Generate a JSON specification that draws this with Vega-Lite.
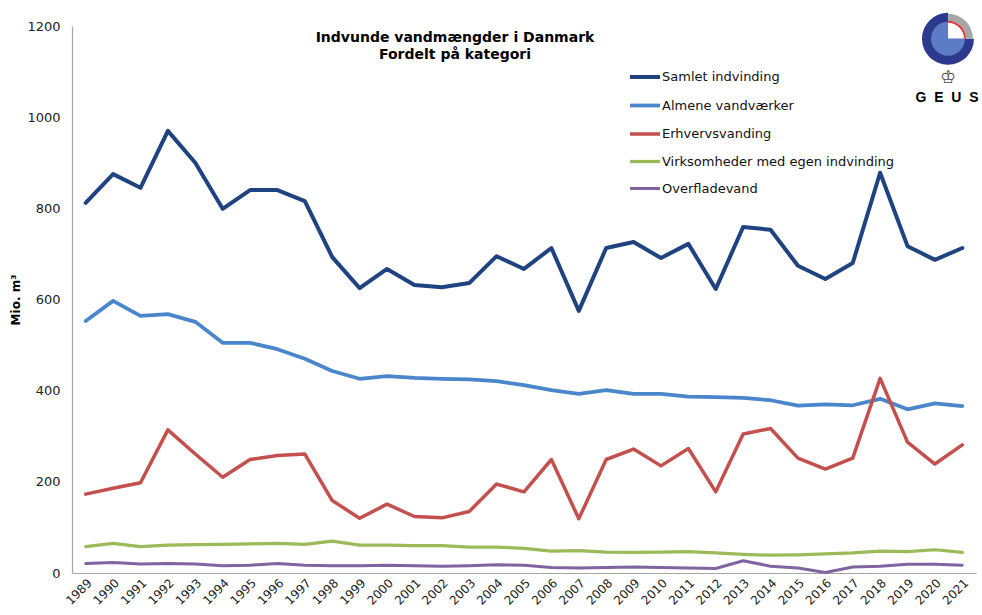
{
  "$schema": "https://vega.github.io/schema/vega-lite/v6.json",
  "width": 904,
  "height": 547,
  "autosize": "none",
  "padding": {"left": 72, "top": 26, "right": 6, "bottom": 42},
  "background": "white",
  "config": {
    "view": {"stroke": null},
    "font": "DejaVu Sans",
    "axis": {"labelFont": "DejaVu Sans", "labelColor": "#222", "domainColor": "#A6A6A6", "domainWidth": 1.2, "ticks": false, "grid": false}
  },
  "title": {
    "text": ["Indvunde vandmængder i Danmark", "Fordelt på kategori"],
    "font": "DejaVu Sans",
    "fontSize": 14,
    "fontWeight": "bold",
    "color": "#000",
    "anchor": "middle",
    "frame": "group",
    "lineHeight": 17,
    "offset": 0,
    "dx": -69,
    "dy": 49
  },
  "resolve": {"scale": {"x": "independent"}},
  "layer": [
    {
      "data": {"values": [
        {"year":1989,"series":"Samlet indvinding","value":812},
        {"year":1990,"series":"Samlet indvinding","value":875},
        {"year":1991,"series":"Samlet indvinding","value":845},
        {"year":1992,"series":"Samlet indvinding","value":970},
        {"year":1993,"series":"Samlet indvinding","value":900},
        {"year":1994,"series":"Samlet indvinding","value":799},
        {"year":1995,"series":"Samlet indvinding","value":840},
        {"year":1996,"series":"Samlet indvinding","value":840},
        {"year":1997,"series":"Samlet indvinding","value":816},
        {"year":1998,"series":"Samlet indvinding","value":693},
        {"year":1999,"series":"Samlet indvinding","value":625},
        {"year":2000,"series":"Samlet indvinding","value":667},
        {"year":2001,"series":"Samlet indvinding","value":632},
        {"year":2002,"series":"Samlet indvinding","value":627},
        {"year":2003,"series":"Samlet indvinding","value":636},
        {"year":2004,"series":"Samlet indvinding","value":695},
        {"year":2005,"series":"Samlet indvinding","value":667},
        {"year":2006,"series":"Samlet indvinding","value":713},
        {"year":2007,"series":"Samlet indvinding","value":575},
        {"year":2008,"series":"Samlet indvinding","value":713},
        {"year":2009,"series":"Samlet indvinding","value":726},
        {"year":2010,"series":"Samlet indvinding","value":691},
        {"year":2011,"series":"Samlet indvinding","value":722},
        {"year":2012,"series":"Samlet indvinding","value":623},
        {"year":2013,"series":"Samlet indvinding","value":759},
        {"year":2014,"series":"Samlet indvinding","value":753},
        {"year":2015,"series":"Samlet indvinding","value":674},
        {"year":2016,"series":"Samlet indvinding","value":645},
        {"year":2017,"series":"Samlet indvinding","value":680},
        {"year":2018,"series":"Samlet indvinding","value":878},
        {"year":2019,"series":"Samlet indvinding","value":717},
        {"year":2020,"series":"Samlet indvinding","value":687},
        {"year":2021,"series":"Samlet indvinding","value":713},
        {"year":1989,"series":"Almene vandværker","value":553},
        {"year":1990,"series":"Almene vandværker","value":597},
        {"year":1991,"series":"Almene vandværker","value":564},
        {"year":1992,"series":"Almene vandværker","value":568},
        {"year":1993,"series":"Almene vandværker","value":551},
        {"year":1994,"series":"Almene vandværker","value":505},
        {"year":1995,"series":"Almene vandværker","value":505},
        {"year":1996,"series":"Almene vandværker","value":491},
        {"year":1997,"series":"Almene vandværker","value":470},
        {"year":1998,"series":"Almene vandværker","value":443},
        {"year":1999,"series":"Almene vandværker","value":426},
        {"year":2000,"series":"Almene vandværker","value":432},
        {"year":2001,"series":"Almene vandværker","value":428},
        {"year":2002,"series":"Almene vandværker","value":426},
        {"year":2003,"series":"Almene vandværker","value":425},
        {"year":2004,"series":"Almene vandværker","value":421},
        {"year":2005,"series":"Almene vandværker","value":412},
        {"year":2006,"series":"Almene vandværker","value":401},
        {"year":2007,"series":"Almene vandværker","value":393},
        {"year":2008,"series":"Almene vandværker","value":401},
        {"year":2009,"series":"Almene vandværker","value":393},
        {"year":2010,"series":"Almene vandværker","value":393},
        {"year":2011,"series":"Almene vandværker","value":387},
        {"year":2012,"series":"Almene vandværker","value":386},
        {"year":2013,"series":"Almene vandværker","value":384},
        {"year":2014,"series":"Almene vandværker","value":379},
        {"year":2015,"series":"Almene vandværker","value":367},
        {"year":2016,"series":"Almene vandværker","value":370},
        {"year":2017,"series":"Almene vandværker","value":368},
        {"year":2018,"series":"Almene vandværker","value":382},
        {"year":2019,"series":"Almene vandværker","value":359},
        {"year":2020,"series":"Almene vandværker","value":372},
        {"year":2021,"series":"Almene vandværker","value":366},
        {"year":1989,"series":"Erhvervsvanding","value":173},
        {"year":1990,"series":"Erhvervsvanding","value":186},
        {"year":1991,"series":"Erhvervsvanding","value":198},
        {"year":1992,"series":"Erhvervsvanding","value":314},
        {"year":1993,"series":"Erhvervsvanding","value":261},
        {"year":1994,"series":"Erhvervsvanding","value":210},
        {"year":1995,"series":"Erhvervsvanding","value":249},
        {"year":1996,"series":"Erhvervsvanding","value":258},
        {"year":1997,"series":"Erhvervsvanding","value":261},
        {"year":1998,"series":"Erhvervsvanding","value":159},
        {"year":1999,"series":"Erhvervsvanding","value":120},
        {"year":2000,"series":"Erhvervsvanding","value":151},
        {"year":2001,"series":"Erhvervsvanding","value":124},
        {"year":2002,"series":"Erhvervsvanding","value":121},
        {"year":2003,"series":"Erhvervsvanding","value":135},
        {"year":2004,"series":"Erhvervsvanding","value":195},
        {"year":2005,"series":"Erhvervsvanding","value":178},
        {"year":2006,"series":"Erhvervsvanding","value":249},
        {"year":2007,"series":"Erhvervsvanding","value":119},
        {"year":2008,"series":"Erhvervsvanding","value":249},
        {"year":2009,"series":"Erhvervsvanding","value":272},
        {"year":2010,"series":"Erhvervsvanding","value":235},
        {"year":2011,"series":"Erhvervsvanding","value":273},
        {"year":2012,"series":"Erhvervsvanding","value":178},
        {"year":2013,"series":"Erhvervsvanding","value":305},
        {"year":2014,"series":"Erhvervsvanding","value":317},
        {"year":2015,"series":"Erhvervsvanding","value":252},
        {"year":2016,"series":"Erhvervsvanding","value":228},
        {"year":2017,"series":"Erhvervsvanding","value":252},
        {"year":2018,"series":"Erhvervsvanding","value":427},
        {"year":2019,"series":"Erhvervsvanding","value":287},
        {"year":2020,"series":"Erhvervsvanding","value":239},
        {"year":2021,"series":"Erhvervsvanding","value":281},
        {"year":1989,"series":"Virksomheder med egen indvinding","value":58},
        {"year":1990,"series":"Virksomheder med egen indvinding","value":65},
        {"year":1991,"series":"Virksomheder med egen indvinding","value":58},
        {"year":1992,"series":"Virksomheder med egen indvinding","value":61},
        {"year":1993,"series":"Virksomheder med egen indvinding","value":62},
        {"year":1994,"series":"Virksomheder med egen indvinding","value":63},
        {"year":1995,"series":"Virksomheder med egen indvinding","value":64},
        {"year":1996,"series":"Virksomheder med egen indvinding","value":65},
        {"year":1997,"series":"Virksomheder med egen indvinding","value":63},
        {"year":1998,"series":"Virksomheder med egen indvinding","value":70},
        {"year":1999,"series":"Virksomheder med egen indvinding","value":61},
        {"year":2000,"series":"Virksomheder med egen indvinding","value":61},
        {"year":2001,"series":"Virksomheder med egen indvinding","value":60},
        {"year":2002,"series":"Virksomheder med egen indvinding","value":60},
        {"year":2003,"series":"Virksomheder med egen indvinding","value":57},
        {"year":2004,"series":"Virksomheder med egen indvinding","value":57},
        {"year":2005,"series":"Virksomheder med egen indvinding","value":54},
        {"year":2006,"series":"Virksomheder med egen indvinding","value":48},
        {"year":2007,"series":"Virksomheder med egen indvinding","value":49},
        {"year":2008,"series":"Virksomheder med egen indvinding","value":46},
        {"year":2009,"series":"Virksomheder med egen indvinding","value":45},
        {"year":2010,"series":"Virksomheder med egen indvinding","value":46},
        {"year":2011,"series":"Virksomheder med egen indvinding","value":47},
        {"year":2012,"series":"Virksomheder med egen indvinding","value":44},
        {"year":2013,"series":"Virksomheder med egen indvinding","value":41},
        {"year":2014,"series":"Virksomheder med egen indvinding","value":39},
        {"year":2015,"series":"Virksomheder med egen indvinding","value":40},
        {"year":2016,"series":"Virksomheder med egen indvinding","value":42},
        {"year":2017,"series":"Virksomheder med egen indvinding","value":44},
        {"year":2018,"series":"Virksomheder med egen indvinding","value":48},
        {"year":2019,"series":"Virksomheder med egen indvinding","value":47},
        {"year":2020,"series":"Virksomheder med egen indvinding","value":51},
        {"year":2021,"series":"Virksomheder med egen indvinding","value":45},
        {"year":1989,"series":"Overfladevand","value":21},
        {"year":1990,"series":"Overfladevand","value":23},
        {"year":1991,"series":"Overfladevand","value":20},
        {"year":1992,"series":"Overfladevand","value":21},
        {"year":1993,"series":"Overfladevand","value":20},
        {"year":1994,"series":"Overfladevand","value":16},
        {"year":1995,"series":"Overfladevand","value":17},
        {"year":1996,"series":"Overfladevand","value":21},
        {"year":1997,"series":"Overfladevand","value":17},
        {"year":1998,"series":"Overfladevand","value":16},
        {"year":1999,"series":"Overfladevand","value":16},
        {"year":2000,"series":"Overfladevand","value":17},
        {"year":2001,"series":"Overfladevand","value":16},
        {"year":2002,"series":"Overfladevand","value":15},
        {"year":2003,"series":"Overfladevand","value":16},
        {"year":2004,"series":"Overfladevand","value":18},
        {"year":2005,"series":"Overfladevand","value":17},
        {"year":2006,"series":"Overfladevand","value":12},
        {"year":2007,"series":"Overfladevand","value":11},
        {"year":2008,"series":"Overfladevand","value":12},
        {"year":2009,"series":"Overfladevand","value":13},
        {"year":2010,"series":"Overfladevand","value":12},
        {"year":2011,"series":"Overfladevand","value":11},
        {"year":2012,"series":"Overfladevand","value":10},
        {"year":2013,"series":"Overfladevand","value":27},
        {"year":2014,"series":"Overfladevand","value":15},
        {"year":2015,"series":"Overfladevand","value":11},
        {"year":2016,"series":"Overfladevand","value":1},
        {"year":2017,"series":"Overfladevand","value":13},
        {"year":2018,"series":"Overfladevand","value":15},
        {"year":2019,"series":"Overfladevand","value":19},
        {"year":2020,"series":"Overfladevand","value":19},
        {"year":2021,"series":"Overfladevand","value":17}
      ]},
      "mark": {"type": "line", "strokeJoin": "round", "strokeCap": "round"},
      "encoding": {
        "x": {
          "field": "year", "type": "ordinal",
          "scale": {"type": "point", "padding": 0.5},
          "axis": {"title": null, "labelAngle": -45, "labelFontSize": 12, "labelPadding": 4, "labelOverlap": false, "labelBound": false, "labelFlush": false}
        },
        "y": {
          "field": "value", "type": "quantitative",
          "scale": {"domain": [0, 1200], "nice": false},
          "axis": {"title": "Mio. m³", "titleFont": "DejaVu Sans", "titleFontSize": 12, "titleFontWeight": "bold", "titleColor": "#000", "titlePadding": 4, "values": [0,200,400,600,800,1000,1200], "format": "d", "labelFontSize": 13, "labelPadding": 12}
        },
        "color": {
          "field": "series", "type": "nominal",
          "scale": {
            "domain": ["Samlet indvinding", "Almene vandværker", "Erhvervsvanding", "Virksomheder med egen indvinding", "Overfladevand"],
            "range": ["#1E4380", "#4A86CC", "#C4504D", "#9BBB59", "#8064A2"]
          },
          "legend": {
            "orient": "none", "legendX": 556, "legendY": 34, "title": null, "padding": 0,
            "symbolType": "stroke", "symbolSize": 900, "symbolStrokeWidth": 3,
            "labelFont": "DejaVu Sans", "labelFontSize": 13, "labelColor": "#111", "labelOffset": 0, "rowPadding": 3.5, "labelLimit": 400
          }
        },
        "strokeWidth": {
          "field": "series", "type": "nominal",
          "scale": {
            "domain": ["Samlet indvinding", "Almene vandværker", "Erhvervsvanding", "Virksomheder med egen indvinding", "Overfladevand"],
            "range": [4, 3, 3, 3, 3]
          }
        }
      }
    },
    {
      "data": {"values": [{}]},
      "mark": {"type": "arc", "theta": 1.5708, "theta2": 6.2832, "radius": 26, "radius2": 0, "fill": "#2B3A8F"},
      "encoding": {"x": {"datum": 0.969, "type": "quantitative", "scale": {"domain": [0, 1]}, "axis": null}, "y": {"datum": 1172, "type": "quantitative"}}
    },
    {
      "data": {"values": [{}]},
      "mark": {"type": "arc", "theta": 0, "theta2": 1.5708, "radius": 25, "radius2": 18, "fill": "#A6A6A6"},
      "encoding": {"x": {"datum": 0.969, "type": "quantitative", "scale": {"domain": [0, 1]}, "axis": null}, "y": {"datum": 1172, "type": "quantitative"}}
    },
    {
      "data": {"values": [{}]},
      "mark": {"type": "arc", "theta": 0, "theta2": 1.5708, "radius": 18, "radius2": 16, "fill": "#E0343A"},
      "encoding": {"x": {"datum": 0.969, "type": "quantitative", "scale": {"domain": [0, 1]}, "axis": null}, "y": {"datum": 1172, "type": "quantitative"}}
    },
    {
      "data": {"values": [{}]},
      "mark": {"type": "arc", "theta": 1.5708, "theta2": 6.2832, "radius": 17, "radius2": 0, "fill": "#5D7CC6"},
      "encoding": {"x": {"datum": 0.969, "type": "quantitative", "scale": {"domain": [0, 1]}, "axis": null}, "y": {"datum": 1172, "type": "quantitative"}}
    },
    {
      "data": {"values": [{}]},
      "mark": {"type": "text", "text": "♔", "fontSize": 18, "color": "#444", "align": "center", "baseline": "middle"},
      "encoding": {"x": {"datum": 0.969, "type": "quantitative", "scale": {"domain": [0, 1]}, "axis": null}, "y": {"datum": 1085, "type": "quantitative"}}
    },
    {
      "data": {"values": [{}]},
      "mark": {"type": "text", "text": "G\u00a0\u00a0E\u00a0\u00a0U\u00a0\u00a0S", "font": "Liberation Sans", "fontSize": 14, "fontWeight": "bold", "color": "#000", "align": "center", "baseline": "middle"},
      "encoding": {"x": {"datum": 0.968, "type": "quantitative", "scale": {"domain": [0, 1]}, "axis": null}, "y": {"datum": 1043, "type": "quantitative"}}
    }
  ]
}
